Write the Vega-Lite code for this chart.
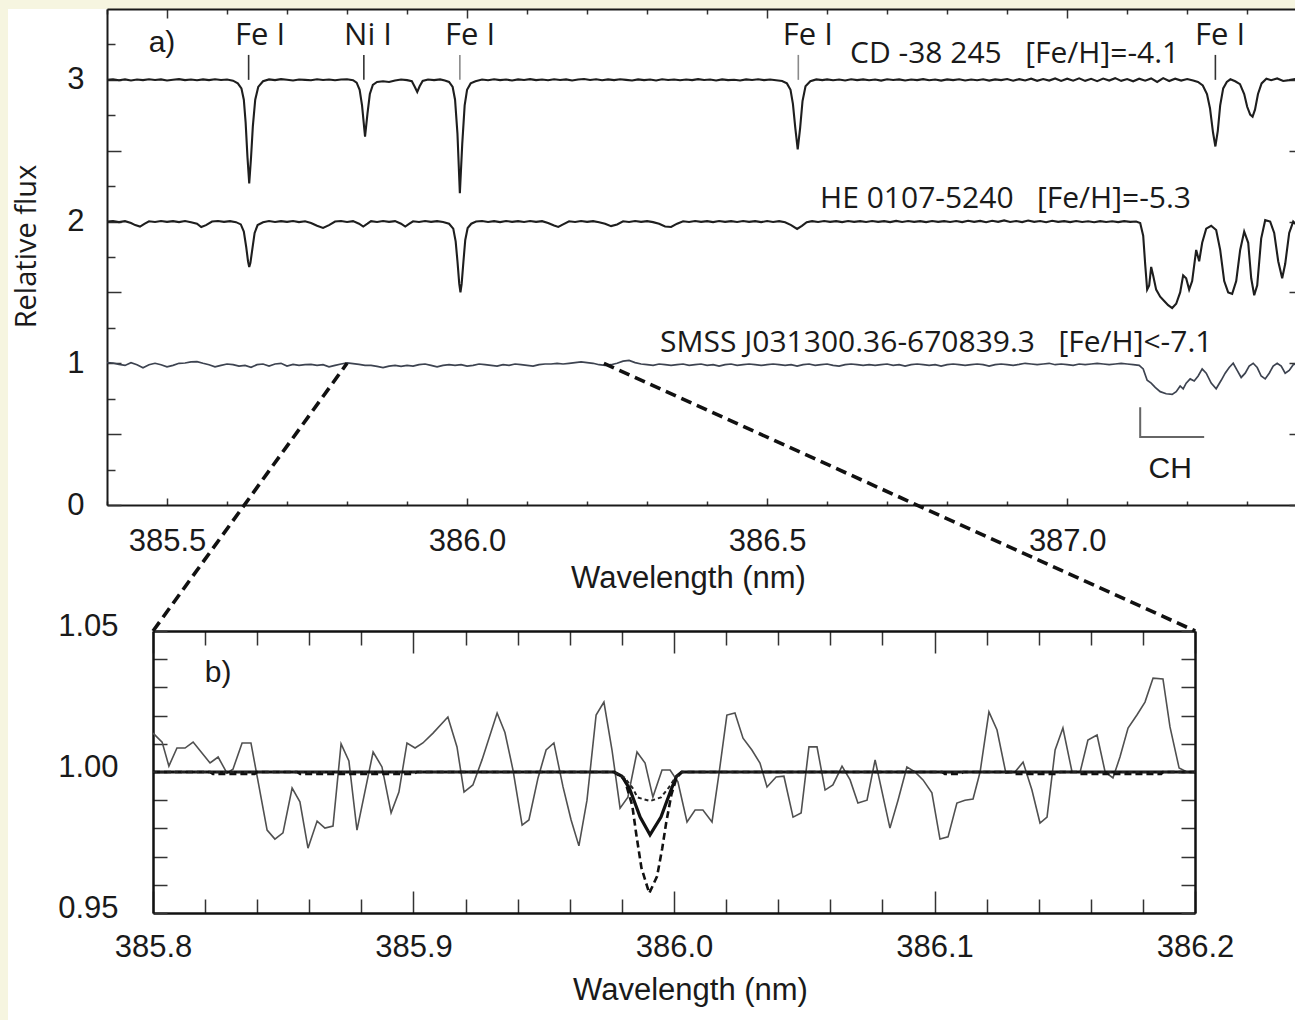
{
  "$schema": "https://vega.github.io/schema/vega-lite/v6.json",
  "width": 1287,
  "height": 1011,
  "autosize": {"type": "none"},
  "padding": {"left": 8, "top": 9, "right": 0, "bottom": 0},
  "background": "#f6f5e0",
  "config": {
    "view": {"fill": "white", "stroke": null},
    "axis": {
      "grid": false,
      "labelFlush": false,
      "labelOverlap": false,
      "labelBound": false,
      "domainColor": "#1a1a1a",
      "tickColor": "#333",
      "labelColor": "#1a1a1a",
      "titleColor": "#1a1a1a",
      "labelFont": "Liberation Sans",
      "labelFontSize": 31,
      "titleFont": "Liberation Sans",
      "titleFontSize": 31,
      "titleFontWeight": "normal"
    }
  },
  "datasets": {
    "cd": [
      {"w":385.40,"f":3.000},{"w":385.41,"f":3.004},{"w":385.42,"f":2.997},{"w":385.43,"f":3.003},{"w":385.44,"f":2.996},{"w":385.45,"f":3.002},{"w":385.46,"f":2.998},{"w":385.47,"f":3.004},{"w":385.48,"f":2.999},{"w":385.49,"f":3.003},{"w":385.50,"f":2.996},{"w":385.51,"f":3.001},{"w":385.52,"f":3.005},{"w":385.53,"f":2.998},{"w":385.54,"f":3.002},{"w":385.55,"f":2.997},{"w":385.56,"f":3.003},{"w":385.57,"f":2.998},{"w":385.58,"f":3.004},{"w":385.59,"f":2.999},{"w":385.600,"f":3.002},{"w":385.610,"f":2.994},{"w":385.618,"f":2.975},{"w":385.624,"f":2.94},{"w":385.628,"f":2.86},{"w":385.631,"f":2.70},{"w":385.634,"f":2.46},{"w":385.637,"f":2.27},{"w":385.640,"f":2.45},{"w":385.643,"f":2.67},{"w":385.647,"f":2.86},{"w":385.652,"f":2.95},{"w":385.660,"f":2.99},{"w":385.670,"f":3.003},{"w":385.68,"f":2.998},{"w":385.69,"f":3.005},{"w":385.70,"f":3.001},{"w":385.71,"f":2.996},{"w":385.72,"f":3.003},{"w":385.73,"f":3.000},{"w":385.74,"f":2.997},{"w":385.75,"f":3.004},{"w":385.76,"f":2.999},{"w":385.77,"f":3.003},{"w":385.78,"f":2.997},{"w":385.79,"f":3.002},{"w":385.800,"f":3.004},{"w":385.810,"f":2.998},{"w":385.816,"f":2.98},{"w":385.821,"f":2.93},{"w":385.825,"f":2.82},{"w":385.830,"f":2.60},{"w":385.834,"f":2.76},{"w":385.838,"f":2.90},{"w":385.843,"f":2.965},{"w":385.850,"f":2.985},{"w":385.860,"f":2.99},{"w":385.870,"f":2.985},{"w":385.880,"f":2.995},{"w":385.890,"f":3.002},{"w":385.900,"f":2.998},{"w":385.908,"f":2.99},{"w":385.913,"f":2.95},{"w":385.917,"f":2.915},{"w":385.921,"f":2.955},{"w":385.926,"f":2.992},{"w":385.935,"f":3.002},{"w":385.945,"f":2.998},{"w":385.955,"f":3.003},{"w":385.963,"f":2.995},{"w":385.970,"f":2.985},{"w":385.976,"f":2.95},{"w":385.980,"f":2.86},{"w":385.984,"f":2.62},{"w":385.988,"f":2.20},{"w":385.992,"f":2.55},{"w":385.996,"f":2.82},{"w":386.000,"f":2.93},{"w":386.006,"f":2.975},{"w":386.014,"f":2.99},{"w":386.025,"f":3.002},{"w":386.035,"f":2.997},{"w":386.045,"f":3.004},{"w":386.055,"f":2.998},{"w":386.065,"f":3.002},{"w":386.075,"f":2.996},{"w":386.085,"f":3.003},{"w":386.095,"f":2.999},{"w":386.105,"f":3.005},{"w":386.115,"f":2.998},{"w":386.125,"f":3.002},{"w":386.135,"f":2.997},{"w":386.145,"f":3.004},{"w":386.155,"f":2.999},{"w":386.165,"f":3.003},{"w":386.175,"f":2.996},{"w":386.185,"f":3.002},{"w":386.195,"f":3.006},{"w":386.205,"f":2.999},{"w":386.215,"f":3.004},{"w":386.225,"f":2.997},{"w":386.235,"f":3.003},{"w":386.245,"f":2.998},{"w":386.255,"f":3.004},{"w":386.265,"f":3.000},{"w":386.275,"f":2.996},{"w":386.285,"f":3.003},{"w":386.295,"f":2.998},{"w":386.305,"f":3.002},{"w":386.315,"f":2.996},{"w":386.325,"f":3.004},{"w":386.335,"f":2.999},{"w":386.345,"f":3.003},{"w":386.355,"f":2.997},{"w":386.365,"f":3.002},{"w":386.375,"f":2.998},{"w":386.385,"f":3.005},{"w":386.395,"f":2.999},{"w":386.405,"f":3.002},{"w":386.415,"f":2.996},{"w":386.425,"f":3.003},{"w":386.435,"f":2.998},{"w":386.445,"f":3.001},{"w":386.455,"f":2.996},{"w":386.465,"f":3.003},{"w":386.475,"f":2.999},{"w":386.485,"f":3.004},{"w":386.495,"f":2.998},{"w":386.505,"f":3.002},{"w":386.515,"f":2.997},{"w":386.525,"f":2.992},{"w":386.533,"f":2.975},{"w":386.539,"f":2.93},{"w":386.543,"f":2.83},{"w":386.547,"f":2.66},{"w":386.551,"f":2.51},{"w":386.555,"f":2.66},{"w":386.559,"f":2.85},{"w":386.564,"f":2.955},{"w":386.572,"f":2.99},{"w":386.582,"f":3.003},{"w":386.592,"f":2.998},{"w":386.60,"f":3.003},{"w":386.61,"f":2.997},{"w":386.62,"f":3.002},{"w":386.63,"f":2.996},{"w":386.64,"f":3.004},{"w":386.65,"f":2.998},{"w":386.66,"f":3.003},{"w":386.67,"f":2.997},{"w":386.68,"f":3.002},{"w":386.69,"f":2.995},{"w":386.70,"f":3.004},{"w":386.71,"f":2.999},{"w":386.72,"f":3.003},{"w":386.73,"f":2.996},{"w":386.74,"f":3.002},{"w":386.75,"f":2.998},{"w":386.76,"f":3.005},{"w":386.77,"f":2.997},{"w":386.78,"f":3.002},{"w":386.79,"f":2.995},{"w":386.80,"f":3.003},{"w":386.81,"f":2.998},{"w":386.82,"f":3.004},{"w":386.83,"f":2.996},{"w":386.84,"f":3.002},{"w":386.85,"f":2.997},{"w":386.86,"f":3.004},{"w":386.87,"f":2.995},{"w":386.88,"f":3.003},{"w":386.89,"f":2.998},{"w":386.90,"f":3.006},{"w":386.91,"f":2.994},{"w":386.92,"f":3.005},{"w":386.93,"f":2.996},{"w":386.94,"f":3.008},{"w":386.95,"f":2.993},{"w":386.96,"f":3.006},{"w":386.97,"f":2.995},{"w":386.98,"f":3.010},{"w":386.99,"f":2.992},{"w":387.00,"f":3.008},{"w":387.01,"f":2.994},{"w":387.02,"f":3.011},{"w":387.03,"f":2.993},{"w":387.04,"f":3.007},{"w":387.05,"f":2.991},{"w":387.06,"f":3.009},{"w":387.07,"f":2.995},{"w":387.08,"f":3.012},{"w":387.09,"f":2.993},{"w":387.10,"f":3.006},{"w":387.11,"f":2.990},{"w":387.12,"f":3.008},{"w":387.13,"f":2.994},{"w":387.14,"f":3.010},{"w":387.15,"f":2.985},{"w":387.16,"f":3.012},{"w":387.17,"f":2.992},{"w":387.18,"f":3.008},{"w":387.19,"f":2.995},{"w":387.200,"f":3.006},{"w":387.210,"f":2.995},{"w":387.218,"f":2.985},{"w":387.226,"f":2.96},{"w":387.233,"f":2.90},{"w":387.238,"f":2.80},{"w":387.243,"f":2.63},{"w":387.247,"f":2.53},{"w":387.251,"f":2.64},{"w":387.255,"f":2.82},{"w":387.260,"f":2.94},{"w":387.266,"f":2.985},{"w":387.272,"f":3.004},{"w":387.280,"f":2.99},{"w":387.288,"f":2.97},{"w":387.295,"f":2.90},{"w":387.300,"f":2.81},{"w":387.305,"f":2.755},{"w":387.309,"f":2.74},{"w":387.313,"f":2.79},{"w":387.318,"f":2.90},{"w":387.324,"f":2.975},{"w":387.332,"f":3.008},{"w":387.340,"f":2.998},{"w":387.350,"f":3.01},{"w":387.360,"f":2.992},{"w":387.370,"f":2.998},{"w":387.380,"f":3.006},{"w":387.393,"f":2.995}
    ],
    "he": [
      {"w":385.40,"f":2.000},{"w":385.41,"f":2.004},{"w":385.42,"f":1.996},{"w":385.43,"f":2.003},{"w":385.44,"f":1.99},{"w":385.447,"f":1.975},{"w":385.455,"f":1.965},{"w":385.463,"f":1.985},{"w":385.47,"f":2.002},{"w":385.48,"f":1.997},{"w":385.49,"f":2.004},{"w":385.50,"f":1.998},{"w":385.51,"f":2.003},{"w":385.52,"f":1.996},{"w":385.53,"f":2.004},{"w":385.54,"f":1.995},{"w":385.550,"f":1.985},{"w":385.557,"f":1.962},{"w":385.565,"f":1.975},{"w":385.575,"f":2.0},{"w":385.585,"f":2.004},{"w":385.595,"f":1.998},{"w":385.605,"f":2.003},{"w":385.615,"f":1.996},{"w":385.623,"f":1.98},{"w":385.628,"f":1.93},{"w":385.632,"f":1.82},{"w":385.635,"f":1.72},{"w":385.637,"f":1.68},{"w":385.639,"f":1.71},{"w":385.642,"f":1.80},{"w":385.646,"f":1.92},{"w":385.651,"f":1.975},{"w":385.66,"f":1.995},{"w":385.67,"f":2.004},{"w":385.68,"f":1.997},{"w":385.69,"f":2.003},{"w":385.70,"f":1.998},{"w":385.71,"f":2.004},{"w":385.72,"f":1.996},{"w":385.73,"f":2.002},{"w":385.74,"f":1.99},{"w":385.750,"f":1.97},{"w":385.760,"f":1.955},{"w":385.770,"f":1.975},{"w":385.78,"f":2.0},{"w":385.79,"f":2.004},{"w":385.80,"f":1.997},{"w":385.81,"f":2.003},{"w":385.820,"f":1.985},{"w":385.827,"f":1.965},{"w":385.834,"f":1.985},{"w":385.84,"f":2.003},{"w":385.85,"f":1.997},{"w":385.86,"f":2.004},{"w":385.87,"f":1.998},{"w":385.88,"f":2.003},{"w":385.890,"f":1.985},{"w":385.897,"f":1.965},{"w":385.904,"f":1.985},{"w":385.91,"f":2.002},{"w":385.92,"f":1.997},{"w":385.93,"f":2.004},{"w":385.94,"f":1.998},{"w":385.95,"f":2.003},{"w":385.96,"f":1.997},{"w":385.970,"f":1.985},{"w":385.977,"f":1.95},{"w":385.981,"f":1.86},{"w":385.984,"f":1.72},{"w":385.987,"f":1.56},{"w":385.989,"f":1.50},{"w":385.991,"f":1.56},{"w":385.994,"f":1.72},{"w":385.997,"f":1.87},{"w":386.001,"f":1.955},{"w":386.007,"f":1.985},{"w":386.015,"f":2.0},{"w":386.025,"f":2.004},{"w":386.035,"f":1.997},{"w":386.045,"f":2.003},{"w":386.055,"f":1.996},{"w":386.065,"f":2.004},{"w":386.075,"f":1.998},{"w":386.085,"f":2.003},{"w":386.095,"f":1.997},{"w":386.105,"f":2.004},{"w":386.115,"f":1.998},{"w":386.125,"f":2.003},{"w":386.135,"f":1.99},{"w":386.145,"f":1.972},{"w":386.152,"f":1.962},{"w":386.160,"f":1.98},{"w":386.170,"f":2.002},{"w":386.180,"f":1.997},{"w":386.190,"f":2.004},{"w":386.200,"f":1.998},{"w":386.210,"f":2.003},{"w":386.220,"f":1.995},{"w":386.230,"f":1.985},{"w":386.240,"f":1.968},{"w":386.250,"f":1.98},{"w":386.260,"f":2.002},{"w":386.270,"f":1.997},{"w":386.280,"f":2.004},{"w":386.290,"f":1.998},{"w":386.300,"f":2.003},{"w":386.310,"f":1.996},{"w":386.320,"f":1.985},{"w":386.330,"f":1.965},{"w":386.340,"f":1.962},{"w":386.350,"f":1.985},{"w":386.360,"f":2.002},{"w":386.370,"f":1.997},{"w":386.380,"f":2.004},{"w":386.390,"f":1.998},{"w":386.400,"f":2.003},{"w":386.410,"f":1.996},{"w":386.420,"f":2.004},{"w":386.430,"f":1.998},{"w":386.440,"f":2.003},{"w":386.450,"f":1.997},{"w":386.460,"f":2.004},{"w":386.470,"f":1.998},{"w":386.480,"f":2.003},{"w":386.490,"f":1.996},{"w":386.500,"f":2.004},{"w":386.510,"f":1.997},{"w":386.520,"f":2.003},{"w":386.530,"f":1.995},{"w":386.540,"f":1.975},{"w":386.550,"f":1.948},{"w":386.558,"f":1.97},{"w":386.566,"f":1.995},{"w":386.575,"f":2.003},{"w":386.585,"f":1.997},{"w":386.595,"f":2.004},{"w":386.605,"f":1.998},{"w":386.615,"f":2.003},{"w":386.625,"f":1.996},{"w":386.635,"f":2.004},{"w":386.645,"f":1.998},{"w":386.655,"f":2.003},{"w":386.665,"f":1.997},{"w":386.675,"f":2.004},{"w":386.685,"f":1.998},{"w":386.695,"f":2.003},{"w":386.705,"f":1.996},{"w":386.715,"f":2.005},{"w":386.725,"f":1.997},{"w":386.735,"f":2.004},{"w":386.745,"f":1.998},{"w":386.755,"f":2.003},{"w":386.765,"f":1.996},{"w":386.775,"f":2.004},{"w":386.785,"f":1.998},{"w":386.795,"f":2.003},{"w":386.805,"f":1.997},{"w":386.815,"f":2.004},{"w":386.825,"f":1.996},{"w":386.835,"f":2.006},{"w":386.845,"f":1.998},{"w":386.855,"f":2.005},{"w":386.865,"f":1.995},{"w":386.875,"f":2.006},{"w":386.885,"f":1.998},{"w":386.895,"f":2.008},{"w":386.905,"f":1.997},{"w":386.915,"f":2.004},{"w":386.925,"f":1.996},{"w":386.935,"f":2.007},{"w":386.945,"f":1.998},{"w":386.955,"f":2.004},{"w":386.965,"f":1.995},{"w":386.975,"f":2.006},{"w":386.985,"f":1.998},{"w":386.995,"f":2.003},{"w":387.005,"f":1.996},{"w":387.015,"f":2.004},{"w":387.025,"f":1.997},{"w":387.035,"f":2.002},{"w":387.045,"f":1.995},{"w":387.055,"f":2.003},{"w":387.065,"f":1.997},{"w":387.075,"f":2.002},{"w":387.085,"f":1.996},{"w":387.095,"f":2.003},{"w":387.105,"f":1.998},{"w":387.115,"f":2.0},{"w":387.1217,"f":1.99},{"w":387.1267,"f":1.90},{"w":387.130,"f":1.70},{"w":387.1333,"f":1.52},{"w":387.1367,"f":1.55},{"w":387.140,"f":1.68},{"w":387.1433,"f":1.62},{"w":387.1483,"f":1.52},{"w":387.155,"f":1.47},{"w":387.1617,"f":1.44},{"w":387.1683,"f":1.41},{"w":387.175,"f":1.39},{"w":387.1817,"f":1.42},{"w":387.1883,"f":1.50},{"w":387.1933,"f":1.62},{"w":387.1983,"f":1.60},{"w":387.2033,"f":1.52},{"w":387.2083,"f":1.58},{"w":387.215,"f":1.80},{"w":387.220,"f":1.72},{"w":387.225,"f":1.85},{"w":387.2317,"f":1.95},{"w":387.240,"f":1.97},{"w":387.2483,"f":1.94},{"w":387.255,"f":1.80},{"w":387.2617,"f":1.58},{"w":387.2683,"f":1.50},{"w":387.275,"f":1.49},{"w":387.2817,"f":1.58},{"w":387.2883,"f":1.80},{"w":387.295,"f":1.93},{"w":387.3017,"f":1.85},{"w":387.3067,"f":1.60},{"w":387.3117,"f":1.48},{"w":387.3167,"f":1.55},{"w":387.3233,"f":1.88},{"w":387.330,"f":2.01},{"w":387.3383,"f":2.0},{"w":387.345,"f":1.92},{"w":387.3517,"f":1.72},{"w":387.3583,"f":1.60},{"w":387.3633,"f":1.70},{"w":387.370,"f":1.92},{"w":387.3767,"f":2.0},{"w":387.3833,"f":1.97},{"w":387.393,"f":1.90}
    ],
    "smss": [
      {"w":385.40,"f":1.005},{"w":385.41,"f":1.002},{"w":385.42,"f":0.992},{"w":385.43,"f":0.985},{"w":385.44,"f":1.004},{"w":385.45,"f":0.99},{"w":385.46,"f":0.968},{"w":385.47,"f":0.99},{"w":385.48,"f":1.0},{"w":385.49,"f":0.99},{"w":385.50,"f":0.975},{"w":385.51,"f":0.985},{"w":385.52,"f":1.0},{"w":385.53,"f":1.002},{"w":385.54,"f":1.01},{"w":385.55,"f":1.012},{"w":385.56,"f":1.0},{"w":385.57,"f":0.99},{"w":385.58,"f":0.975},{"w":385.59,"f":0.985},{"w":385.60,"f":0.995},{"w":385.61,"f":0.99},{"w":385.62,"f":0.98},{"w":385.63,"f":0.985},{"w":385.64,"f":0.972},{"w":385.65,"f":0.99},{"w":385.66,"f":0.995},{"w":385.67,"f":0.98},{"w":385.68,"f":0.995},{"w":385.69,"f":1.0},{"w":385.70,"f":0.98},{"w":385.71,"f":0.992},{"w":385.72,"f":0.985},{"w":385.73,"f":0.99},{"w":385.74,"f":0.992},{"w":385.75,"f":0.985},{"w":385.76,"f":0.99},{"w":385.77,"f":0.975},{"w":385.78,"f":0.985},{"w":385.79,"f":0.995},{"w":385.80,"f":1.003},{"w":385.81,"f":0.998},{"w":385.82,"f":0.992},{"w":385.83,"f":0.985},{"w":385.84,"f":0.985},{"w":385.85,"f":0.978},{"w":385.86,"f":0.97},{"w":385.87,"f":0.98},{"w":385.88,"f":0.985},{"w":385.89,"f":0.978},{"w":385.90,"f":0.985},{"w":385.91,"f":0.98},{"w":385.92,"f":0.99},{"w":385.93,"f":0.995},{"w":385.94,"f":0.985},{"w":385.95,"f":0.975},{"w":385.96,"f":0.985},{"w":385.97,"f":0.99},{"w":385.98,"f":0.985},{"w":385.99,"f":0.99},{"w":386.00,"f":0.98},{"w":386.01,"f":0.985},{"w":386.02,"f":0.995},{"w":386.03,"f":0.99},{"w":386.04,"f":0.985},{"w":386.05,"f":0.98},{"w":386.06,"f":0.99},{"w":386.07,"f":0.985},{"w":386.08,"f":0.995},{"w":386.09,"f":0.99},{"w":386.10,"f":0.985},{"w":386.11,"f":0.98},{"w":386.12,"f":0.99},{"w":386.13,"f":0.995},{"w":386.14,"f":0.995},{"w":386.15,"f":1.0},{"w":386.16,"f":0.995},{"w":386.17,"f":1.0},{"w":386.18,"f":1.005},{"w":386.19,"f":1.01},{"w":386.20,"f":1.005},{"w":386.21,"f":1.0},{"w":386.22,"f":0.99},{"w":386.23,"f":0.985},{"w":386.24,"f":0.99},{"w":386.25,"f":1.0},{"w":386.26,"f":1.015},{"w":386.27,"f":1.02},{"w":386.28,"f":1.005},{"w":386.29,"f":0.995},{"w":386.30,"f":0.99},{"w":386.31,"f":0.985},{"w":386.32,"f":0.995},{"w":386.33,"f":0.99},{"w":386.34,"f":0.985},{"w":386.35,"f":0.99},{"w":386.36,"f":0.995},{"w":386.37,"f":0.985},{"w":386.38,"f":0.99},{"w":386.39,"f":0.995},{"w":386.40,"f":0.985},{"w":386.41,"f":0.99},{"w":386.42,"f":0.98},{"w":386.43,"f":0.99},{"w":386.44,"f":0.995},{"w":386.45,"f":0.985},{"w":386.46,"f":0.99},{"w":386.47,"f":0.995},{"w":386.48,"f":0.99},{"w":386.49,"f":0.985},{"w":386.50,"f":0.99},{"w":386.51,"f":0.995},{"w":386.52,"f":0.99},{"w":386.53,"f":0.985},{"w":386.54,"f":0.99},{"w":386.55,"f":0.98},{"w":386.56,"f":0.99},{"w":386.57,"f":0.995},{"w":386.58,"f":0.985},{"w":386.59,"f":0.99},{"w":386.60,"f":0.995},{"w":386.61,"f":0.985},{"w":386.62,"f":0.98},{"w":386.63,"f":0.99},{"w":386.64,"f":0.995},{"w":386.65,"f":0.99},{"w":386.66,"f":0.985},{"w":386.67,"f":0.99},{"w":386.68,"f":0.985},{"w":386.69,"f":0.99},{"w":386.70,"f":0.995},{"w":386.71,"f":0.985},{"w":386.72,"f":0.99},{"w":386.73,"f":0.98},{"w":386.74,"f":0.99},{"w":386.75,"f":0.995},{"w":386.76,"f":0.99},{"w":386.77,"f":0.985},{"w":386.78,"f":0.99},{"w":386.79,"f":0.98},{"w":386.80,"f":0.99},{"w":386.81,"f":0.995},{"w":386.82,"f":0.99},{"w":386.83,"f":0.985},{"w":386.84,"f":0.99},{"w":386.85,"f":0.995},{"w":386.86,"f":0.99},{"w":386.87,"f":0.98},{"w":386.88,"f":0.99},{"w":386.89,"f":0.995},{"w":386.90,"f":0.99},{"w":386.91,"f":0.985},{"w":386.92,"f":0.992},{"w":386.93,"f":1.0},{"w":386.94,"f":0.995},{"w":386.95,"f":0.99},{"w":386.96,"f":0.995},{"w":386.97,"f":1.0},{"w":386.98,"f":0.99},{"w":386.99,"f":0.995},{"w":387.00,"f":0.99},{"w":387.01,"f":0.985},{"w":387.02,"f":0.995},{"w":387.03,"f":0.99},{"w":387.04,"f":0.995},{"w":387.05,"f":1.0},{"w":387.06,"f":0.995},{"w":387.07,"f":0.99},{"w":387.08,"f":0.995},{"w":387.09,"f":1.0},{"w":387.10,"f":0.995},{"w":387.11,"f":0.99},{"w":387.12,"f":0.985},{"w":387.1267,"f":0.96},{"w":387.1333,"f":0.88},{"w":387.14,"f":0.86},{"w":387.1467,"f":0.83},{"w":387.155,"f":0.80},{"w":387.165,"f":0.785},{"w":387.175,"f":0.78},{"w":387.1817,"f":0.80},{"w":387.1883,"f":0.84},{"w":387.1933,"f":0.82},{"w":387.1983,"f":0.86},{"w":387.205,"f":0.89},{"w":387.2117,"f":0.875},{"w":387.2183,"f":0.91},{"w":387.225,"f":0.96},{"w":387.2317,"f":0.93},{"w":387.24,"f":0.86},{"w":387.2483,"f":0.82},{"w":387.2567,"f":0.88},{"w":387.2633,"f":0.93},{"w":387.27,"f":0.97},{"w":387.2767,"f":1.0},{"w":387.2833,"f":0.95},{"w":387.29,"f":0.90},{"w":387.2967,"f":0.93},{"w":387.3033,"f":0.98},{"w":387.31,"f":1.0},{"w":387.3167,"f":0.97},{"w":387.3233,"f":0.91},{"w":387.33,"f":0.89},{"w":387.3367,"f":0.93},{"w":387.3433,"f":0.98},{"w":387.35,"f":1.0},{"w":387.3567,"f":0.98},{"w":387.3633,"f":0.93},{"w":387.37,"f":0.95},{"w":387.3767,"f":0.99},{"w":387.3833,"f":1.0},{"w":387.393,"f":0.96}
    ],
    "markers": [
      {"w":385.636,"y1":3.0,"y2":3.176},
      {"w":385.828,"y1":3.0,"y2":3.176},
      {"w":385.988,"y1":3.0,"y2":3.176},
      {"w":386.552,"y1":3.0,"y2":3.176},
      {"w":387.247,"y1":3.0,"y2":3.176}
    ],
    "lines": [
      {"w":385.655,"f":3.246,"t":"Fe I"},
      {"w":385.835,"f":3.246,"t":"Ni I"},
      {"w":386.005,"f":3.246,"t":"Fe I"},
      {"w":386.568,"f":3.246,"t":"Fe I"},
      {"w":387.255,"f":3.246,"t":"Fe I"}
    ],
    "stars": [
      {"w":386.6383,"f":3.119,"t":"CD -38 245\u00a0\u00a0\u00a0[Fe/H]=-4.1"},
      {"w":386.5883,"f":2.096,"t":"HE 0107-5240\u00a0\u00a0\u00a0[Fe/H]=-5.3"},
      {"w":386.3217,"f":1.0797,"t":"SMSS J031300.36-670839.3\u00a0\u00a0\u00a0[Fe/H]<-7.1"}
    ],
    "misc": [
      {"w":385.4917,"f":3.197,"t":"a)"},
      {"w":387.1717,"f":0.1905,"t":"CH"}
    ],
    "ch": [
      {"i":0,"w":387.1217,"f":0.69},
      {"i":1,"w":387.1217,"f":0.48},
      {"i":2,"w":387.2283,"f":0.48}
    ],
    "conn": [
      {"id":"L","w":385.8,"f":1.0},
      {"id":"L","w":385.4767,"f":-0.889},
      {"id":"R","w":386.228,"f":1.0},
      {"id":"R","w":387.2133,"f":-0.889}
    ],
    "obs": [
      {"w":385.8,"f":1.0138},{"w":385.8035,"f":1.0106},{"w":385.8061,"f":1.0021},{"w":385.8092,"f":1.0085},{"w":385.8123,"f":1.0085},{"w":385.8154,"f":1.0106},{"w":385.8188,"f":1.0067},{"w":385.8219,"f":1.0032},{"w":385.825,"f":1.0053},{"w":385.8284,"f":0.9996},{"w":385.8307,"f":1.001},{"w":385.8342,"f":1.0103},{"w":385.8376,"f":1.0103},{"w":385.8438,"f":0.9794},{"w":385.8468,"f":0.9762},{"w":385.8499,"f":0.9784},{"w":385.8534,"f":0.9943},{"w":385.8564,"f":0.9894},{"w":385.8595,"f":0.973},{"w":385.863,"f":0.9826},{"w":385.866,"f":0.9801},{"w":385.8691,"f":0.9808},{"w":385.8722,"f":1.01},{"w":385.8752,"f":1.0039},{"w":385.8783,"f":0.9794},{"w":385.8845,"f":1.0071},{"w":385.8879,"f":1.0018},{"w":385.8914,"f":0.9855},{"w":385.8944,"f":0.9929},{"w":385.8975,"f":1.0103},{"w":385.9006,"f":1.0085},{"w":385.9036,"f":1.0103},{"w":385.9075,"f":1.0138},{"w":385.9132,"f":1.0195},{"w":385.9167,"f":1.0089},{"w":385.9194,"f":0.9929},{"w":385.9228,"f":0.9954},{"w":385.9263,"f":1.0043},{"w":385.9321,"f":1.0209},{"w":385.9351,"f":1.014},{"w":385.9382,"f":1.0007},{"w":385.9417,"f":0.9812},{"w":385.9443,"f":0.983},{"w":385.9478,"f":0.9979},{"w":385.9509,"f":1.0078},{"w":385.9539,"f":1.0103},{"w":385.9574,"f":0.9947},{"w":385.9605,"f":0.983},{"w":385.9635,"f":0.9738},{"w":385.9666,"f":0.99},{"w":385.9701,"f":1.0202},{"w":385.9731,"f":1.0248},{"w":385.9762,"f":1.0078},{"w":385.9793,"f":0.9872},{"w":385.9823,"f":0.9911},{"w":385.9858,"f":1.0071},{"w":385.9889,"f":1.0032},{"w":385.9919,"f":0.9911},{"w":385.9954,"f":1.0007},{"w":385.9985,"f":1.0007},{"w":386.0015,"f":0.9965},{"w":386.005,"f":0.9823},{"w":386.0081,"f":0.9865},{"w":386.0111,"f":0.9865},{"w":386.0146,"f":0.9823},{"w":386.0173,"f":0.9996},{"w":386.0203,"f":1.0202},{"w":386.0234,"f":1.0209},{"w":386.0265,"f":1.012},{"w":386.0299,"f":1.0078},{"w":386.033,"f":1.0032},{"w":386.0357,"f":0.9947},{"w":386.0392,"f":0.9982},{"w":386.0422,"f":0.9985},{"w":386.0457,"f":0.984},{"w":386.0488,"f":0.9855},{"w":386.0518,"f":1.0089},{"w":386.0549,"f":1.0089},{"w":386.058,"f":0.9936},{"w":386.061,"f":0.9954},{"w":386.0645,"f":1.0021},{"w":386.0676,"f":0.9972},{"w":386.0706,"f":0.989},{"w":386.0741,"f":0.99},{"w":386.0772,"f":1.0043},{"w":386.0829,"f":0.9801},{"w":386.086,"f":0.99},{"w":386.0894,"f":1.0018},{"w":386.0925,"f":1.0},{"w":386.0956,"f":0.9972},{"w":386.099,"f":0.9926},{"w":386.1021,"f":0.9762},{"w":386.1052,"f":0.977},{"w":386.1086,"f":0.989},{"w":386.1117,"f":0.99},{"w":386.1148,"f":0.9904},{"w":386.1175,"f":1.0},{"w":386.1209,"f":1.0213},{"w":386.124,"f":1.0149},{"w":386.1274,"f":0.9996},{"w":386.1309,"f":1.0},{"w":386.134,"f":1.0035},{"w":386.1374,"f":0.9936},{"w":386.1405,"f":0.9819},{"w":386.1432,"f":0.984},{"w":386.1463,"f":1.0078},{"w":386.1493,"f":1.0156},{"w":386.1528,"f":1.0},{"w":386.1559,"f":1.0},{"w":386.1589,"f":1.0113},{"w":386.1624,"f":1.0131},{"w":386.1655,"f":1.0},{"w":386.1685,"f":0.9979},{"w":386.1712,"f":1.0053},{"w":386.1743,"f":1.0156},{"w":386.1777,"f":1.0202},{"w":386.1808,"f":1.0248},{"w":386.1839,"f":1.0333},{"w":386.1877,"f":1.033},{"w":386.1904,"f":1.016},{"w":386.1939,"f":1.0014},{"w":386.1969,"f":1.0},{"w":386.2,"f":1.0}
    ],
    "msolid": [
      {"w":385.8,"f":1.0},{"w":385.977,"f":1.0},{"w":385.980,"f":0.9985},{"w":385.983,"f":0.994},{"w":385.987,"f":0.984},{"w":385.9908,"f":0.9777},{"w":385.995,"f":0.984},{"w":385.999,"f":0.994},{"w":386.001,"f":0.9985},{"w":386.003,"f":1.0},{"w":386.2,"f":1.0}
    ],
    "mdash": [
      {"w":385.8,"f":1.0},{"w":385.8219,"f":1.0},{"w":385.823,"f":0.9993},{"w":385.839,"f":0.9993},{"w":385.840,"f":1.0},{"w":385.8553,"f":1.0},{"w":385.8565,"f":0.9993},{"w":385.900,"f":0.9993},{"w":385.9013,"f":1.0},{"w":385.977,"f":1.0},{"w":385.981,"f":0.9975},{"w":385.984,"f":0.988},{"w":385.9855,"f":0.978},{"w":385.9875,"f":0.966},{"w":385.9905,"f":0.957},{"w":385.9935,"f":0.963},{"w":385.9955,"f":0.973},{"w":385.997,"f":0.982},{"w":385.999,"f":0.992},{"w":386.001,"f":0.998},{"w":386.003,"f":1.0},{"w":386.1029,"f":1.0},{"w":386.104,"f":0.9993},{"w":386.110,"f":0.9993},{"w":386.111,"f":1.0},{"w":386.1301,"f":1.0},{"w":386.131,"f":0.9993},{"w":386.147,"f":0.9993},{"w":386.1482,"f":1.0},{"w":386.1547,"f":1.0},{"w":386.156,"f":0.9993},{"w":386.187,"f":0.9993},{"w":386.1877,"f":1.0},{"w":386.2,"f":1.0}
    ],
    "mdot": [
      {"w":385.8,"f":1.0},{"w":385.977,"f":1.0},{"w":385.981,"f":0.998},{"w":385.984,"f":0.9945},{"w":385.986,"f":0.991},{"w":385.9908,"f":0.9897},{"w":385.995,"f":0.991},{"w":385.998,"f":0.9945},{"w":386.0005,"f":0.998},{"w":386.003,"f":1.0},{"w":386.2,"f":1.0}
    ],
    "blabel": [
      {"w":385.825,"f":1.0319,"t":"b)"}
    ]
  },
  "layer": [
    {
      "layer": [
        {
          "data": {"name": "cd"},
          "mark": {"type": "line", "color": "#1e1e1e", "strokeWidth": 2.1},
          "encoding": {
            "x": {"field": "w", "type": "quantitative",
              "scale": {"domain": [385.4, 387.393], "range": [99, 1295], "nice": false, "zero": false},
              "axis": {
                "orient": "bottom", "offset": -515,
                "values": [385.4,385.5,385.6,385.7,385.8,385.9,386.0,386.1,386.2,386.3,386.4,386.5,386.6,386.7,386.8,386.9,387.0,387.1,387.2,387.3],
                "format": ".1f",
                "labelExpr": "abs(datum.value*2-round(datum.value*2))<0.001 ? datum.label : ''",
                "tickSize": {"condition": {"test": "abs(datum.value*2-round(datum.value*2))<0.001", "value": -7}, "value": -4},
                "tickWidth": 1.5, "domainWidth": 2,
                "labelPadding": 43, "labelBaseline": "middle", "labelAlign": "center",
                "title": "Wavelength (nm)", "titleX": 680, "titleY": 73, "titleBaseline": "middle", "titleAlign": "center"
              }
            },
            "y": {"field": "f", "type": "quantitative",
              "scale": {"domain": [0, 3.5], "range": [496, 0], "nice": false, "zero": false},
              "axis": {
                "orient": "left", "offset": -99,
                "values": [0,0.25,0.5,0.75,1,1.25,1.5,1.75,2,2.25,2.5,2.75,3,3.25],
                "labelExpr": "datum.value % 1 === 0 ? format(datum.value, 'd') : ''",
                "tickSize": {"condition": {"test": "datum.value % 0.5 === 0", "value": -14}, "value": -8},
                "tickWidth": 1.5, "domainWidth": 2,
                "labelPadding": 37, "labelAlign": "right", "labelBaseline": "middle",
                "title": "Relative flux", "titleFont": "Open Sans", "titleFontSize": 29,
                "titleX": -72, "titleY": 237, "titleAngle": -90, "titleBaseline": "alphabetic", "titleAlign": "center"
              }
            }
          }
        },
        {
          "data": {"name": "markers"},
          "mark": {"type": "rule", "strokeWidth": 1.6},
          "encoding": {
            "x": {"field": "w", "type": "quantitative",
              "scale": {"domain": [385.4, 387.393], "range": [99, 1295], "nice": false, "zero": false},
              "axis": {
                "orient": "top", "offset": 0,
                "values": [385.4,385.5,385.6,385.7,385.8,385.9,386.0,386.1,386.2,386.3,386.4,386.5,386.6,386.7,386.8,386.9,387.0,387.1,387.2,387.3],
                "labels": false,
                "tickSize": {"condition": {"test": "abs(datum.value*2-round(datum.value*2))<0.001", "value": -9}, "value": -5},
                "tickWidth": 1.5, "domainWidth": 2, "title": null
              }
            },
            "y": {"field": "y1", "type": "quantitative",
              "scale": {"domain": [0, 3.5], "range": [496, 0], "nice": false, "zero": false},
              "axis": {
                "orient": "right", "offset": 8,
                "values": [0,0.25,0.5,0.75,1,1.25,1.5,1.75,2,2.25,2.5,2.75,3,3.25],
                "labels": false, "domain": false,
                "tickSize": {"condition": {"test": "datum.value % 0.5 === 0", "value": -14}, "value": -8},
                "tickWidth": 1.5, "title": null
              }
            },
            "y2": {"field": "y2"},
            "color": {"condition": {"test": "datum.w > 385.9 && datum.w < 386.6", "value": "#8a8a8a"}, "value": "#333"}
          }
        },
        {
          "data": {"name": "he"},
          "mark": {"type": "line", "color": "#1e1e1e", "strokeWidth": 2.1},
          "encoding": {
            "x": {"field": "w", "type": "quantitative", "scale": {"domain": [385.4, 387.393], "range": [99, 1295], "nice": false, "zero": false}, "axis": null},
            "y": {"field": "f", "type": "quantitative", "scale": {"domain": [0, 3.5], "range": [496, 0], "nice": false, "zero": false}, "axis": null}
          }
        },
        {
          "data": {"name": "smss"},
          "mark": {"type": "line", "color": "#3d4350", "strokeWidth": 1.7},
          "encoding": {
            "x": {"field": "w", "type": "quantitative", "scale": {"domain": [385.4, 387.393], "range": [99, 1295], "nice": false, "zero": false}, "axis": null},
            "y": {"field": "f", "type": "quantitative", "scale": {"domain": [0, 3.5], "range": [496, 0], "nice": false, "zero": false}, "axis": null}
          }
        },
        {
          "data": {"name": "ch"},
          "mark": {"type": "line", "color": "#666", "strokeWidth": 2},
          "encoding": {
            "x": {"field": "w", "type": "quantitative", "scale": {"domain": [385.4, 387.393], "range": [99, 1295], "nice": false, "zero": false}, "axis": null},
            "y": {"field": "f", "type": "quantitative", "scale": {"domain": [0, 3.5], "range": [496, 0], "nice": false, "zero": false}, "axis": null},
            "order": {"field": "i"}
          }
        },
        {
          "data": {"name": "conn"},
          "mark": {"type": "line", "color": "#111", "strokeWidth": 3.6, "strokeDash": [11, 6]},
          "encoding": {
            "x": {"field": "w", "type": "quantitative", "scale": {"domain": [385.4, 387.393], "range": [99, 1295], "nice": false, "zero": false}, "axis": null},
            "y": {"field": "f", "type": "quantitative", "scale": {"domain": [0, 3.5], "range": [496, 0], "nice": false, "zero": false}, "axis": null},
            "detail": {"field": "id"}
          }
        },
        {
          "data": {"name": "lines"},
          "mark": {"type": "text", "font": "Open Sans", "fontSize": 31, "align": "center", "baseline": "alphabetic", "color": "#1a1a1a"},
          "encoding": {
            "x": {"field": "w", "type": "quantitative", "scale": {"domain": [385.4, 387.393], "range": [99, 1295], "nice": false, "zero": false}, "axis": null},
            "y": {"field": "f", "type": "quantitative", "scale": {"domain": [0, 3.5], "range": [496, 0], "nice": false, "zero": false}, "axis": null},
            "text": {"field": "t"}
          }
        },
        {
          "data": {"name": "stars"},
          "mark": {"type": "text", "font": "Open Sans", "fontSize": 30, "align": "left", "baseline": "alphabetic", "color": "#1a1a1a"},
          "encoding": {
            "x": {"field": "w", "type": "quantitative", "scale": {"domain": [385.4, 387.393], "range": [99, 1295], "nice": false, "zero": false}, "axis": null},
            "y": {"field": "f", "type": "quantitative", "scale": {"domain": [0, 3.5], "range": [496, 0], "nice": false, "zero": false}, "axis": null},
            "text": {"field": "t"}
          }
        },
        {
          "data": {"name": "misc"},
          "mark": {"type": "text", "font": "Liberation Sans", "fontSize": 30, "align": "center", "baseline": "alphabetic", "color": "#1a1a1a"},
          "encoding": {
            "x": {"field": "w", "type": "quantitative", "scale": {"domain": [385.4, 387.393], "range": [99, 1295], "nice": false, "zero": false}, "axis": null},
            "y": {"field": "f", "type": "quantitative", "scale": {"domain": [0, 3.5], "range": [496, 0], "nice": false, "zero": false}, "axis": null},
            "text": {"field": "t"}
          }
        }
      ],
      "resolve": {"axis": {"x": "independent", "y": "independent"}}
    },
    {
      "layer": [
        {
          "data": {"name": "obs"},
          "mark": {"type": "line", "color": "#505050", "strokeWidth": 1.6},
          "encoding": {
            "x": {"field": "w", "type": "quantitative",
              "scale": {"domain": [385.8, 386.2], "range": [145, 1187], "nice": false, "zero": false},
              "axis": {
                "orient": "bottom", "offset": -107,
                "values": [385.8,385.82,385.84,385.86,385.88,385.9,385.92,385.94,385.96,385.98,386.0,386.02,386.04,386.06,386.08,386.1,386.12,386.14,386.16,386.18,386.2],
                "format": ".1f",
                "labelExpr": "abs(datum.value*10-round(datum.value*10))<0.001 ? datum.label : ''",
                "tickSize": {"condition": {"test": "abs(datum.value*10-round(datum.value*10))<0.001", "value": -22}, "value": -14},
                "tickWidth": 1.5, "domainWidth": 2.5, "domainColor": "#111",
                "labelPadding": 56, "labelBaseline": "middle", "labelAlign": "center",
                "title": "Wavelength (nm)", "titleX": 682, "titleY": 77, "titleBaseline": "middle", "titleAlign": "center"
              }
            },
            "y": {"field": "f", "type": "quantitative",
              "scale": {"domain": [0.95, 1.05], "range": [904, 622], "nice": false, "zero": false},
              "axis": {
                "orient": "left", "offset": -145,
                "values": [0.95,0.96,0.97,0.98,0.99,1.0,1.01,1.02,1.03,1.04,1.05],
                "format": ".2f",
                "labelExpr": "abs(datum.value*20-round(datum.value*20))<0.001 ? datum.label : ''",
                "tickSize": -14, "tickWidth": 1.5, "domainWidth": 2.5, "domainColor": "#111",
                "labelPadding": 49, "labelAlign": "right", "labelBaseline": "middle", "labelOffset": -5,
                "title": null
              }
            }
          }
        },
        {
          "data": {"name": "msolid"},
          "mark": {"type": "line", "color": "#111", "strokeWidth": 3.2},
          "encoding": {
            "x": {"field": "w", "type": "quantitative",
              "scale": {"domain": [385.8, 386.2], "range": [145, 1187], "nice": false, "zero": false},
              "axis": {
                "orient": "top", "offset": -622,
                "values": [385.8,385.82,385.84,385.86,385.88,385.9,385.92,385.94,385.96,385.98,386.0,386.02,386.04,386.06,386.08,386.1,386.12,386.14,386.16,386.18,386.2],
                "labels": false,
                "tickSize": {"condition": {"test": "abs(datum.value*10-round(datum.value*10))<0.001", "value": -22}, "value": -14},
                "tickWidth": 1.5, "domainWidth": 2.5, "domainColor": "#111", "title": null
              }
            },
            "y": {"field": "f", "type": "quantitative",
              "scale": {"domain": [0.95, 1.05], "range": [904, 622], "nice": false, "zero": false},
              "axis": {
                "orient": "right", "offset": -100,
                "values": [0.95,0.96,0.97,0.98,0.99,1.0,1.01,1.02,1.03,1.04,1.05],
                "labels": false,
                "tickSize": -14, "tickWidth": 1.5, "domainWidth": 2.5, "domainColor": "#111", "title": null
              }
            }
          }
        },
        {
          "data": {"name": "mdash"},
          "mark": {"type": "line", "color": "#111", "strokeWidth": 2.6, "strokeDash": [7, 4]},
          "encoding": {
            "x": {"field": "w", "type": "quantitative", "scale": {"domain": [385.8, 386.2], "range": [145, 1187], "nice": false, "zero": false}, "axis": null},
            "y": {"field": "f", "type": "quantitative", "scale": {"domain": [0.95, 1.05], "range": [904, 622], "nice": false, "zero": false}, "axis": null}
          }
        },
        {
          "data": {"name": "mdot"},
          "mark": {"type": "line", "color": "#222", "strokeWidth": 2, "strokeDash": [4, 3]},
          "encoding": {
            "x": {"field": "w", "type": "quantitative", "scale": {"domain": [385.8, 386.2], "range": [145, 1187], "nice": false, "zero": false}, "axis": null},
            "y": {"field": "f", "type": "quantitative", "scale": {"domain": [0.95, 1.05], "range": [904, 622], "nice": false, "zero": false}, "axis": null}
          }
        },
        {
          "data": {"name": "blabel"},
          "mark": {"type": "text", "font": "Liberation Sans", "fontSize": 30, "align": "center", "baseline": "alphabetic", "color": "#1a1a1a"},
          "encoding": {
            "x": {"field": "w", "type": "quantitative", "scale": {"domain": [385.8, 386.2], "range": [145, 1187], "nice": false, "zero": false}, "axis": null},
            "y": {"field": "f", "type": "quantitative", "scale": {"domain": [0.95, 1.05], "range": [904, 622], "nice": false, "zero": false}, "axis": null},
            "text": {"field": "t"}
          }
        }
      ],
      "resolve": {"axis": {"x": "independent", "y": "independent"}}
    }
  ],
  "resolve": {"scale": {"x": "independent", "y": "independent"}, "axis": {"x": "independent", "y": "independent"}}
}
